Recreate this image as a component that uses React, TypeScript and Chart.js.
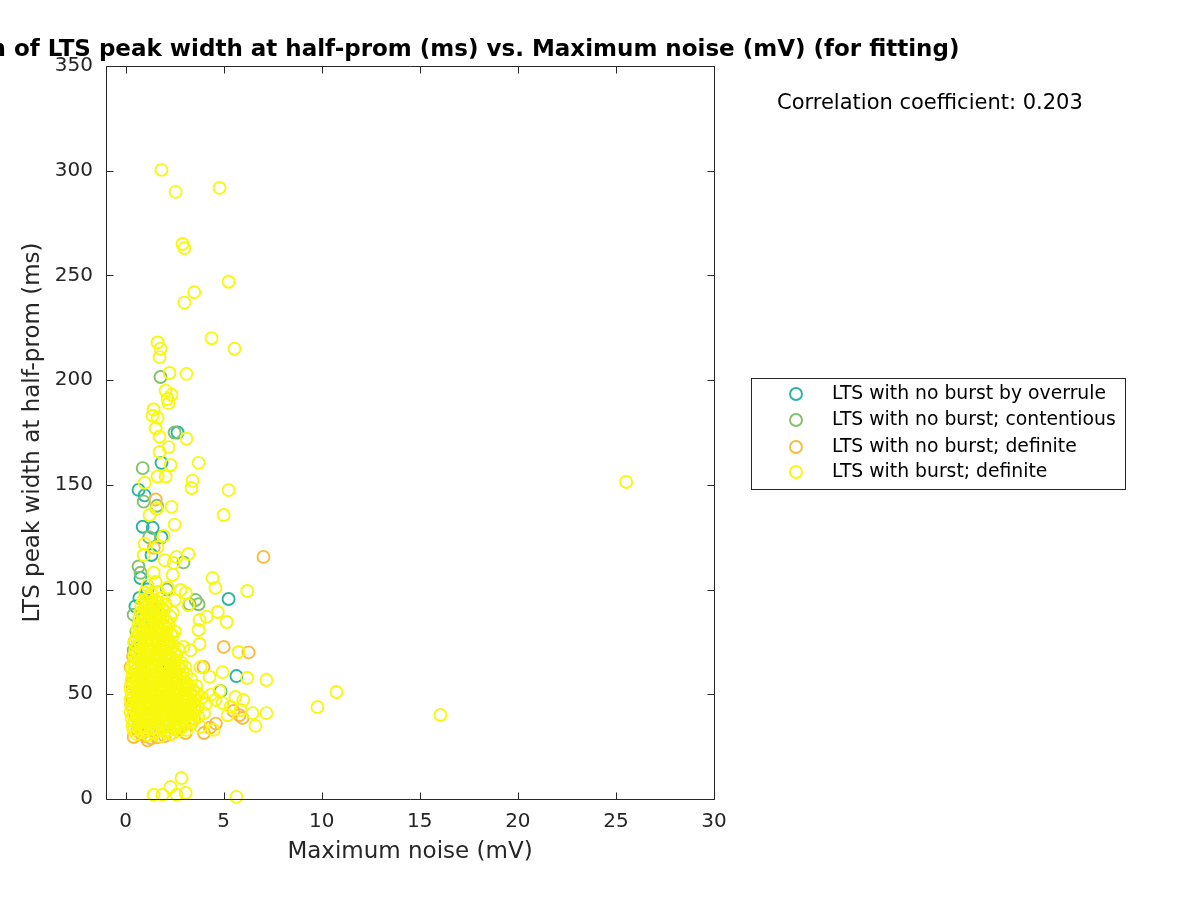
import React, { useEffect, useRef } from 'react';
import { Chart, registerables } from 'chart.js';

Chart.register(...registerables);

const FONT = '"DejaVu Sans", sans-serif';
const AXIS_COLOR = '#262626';

const TITLE = 'Correlation of LTS peak width at half-prom (ms) vs. Maximum noise (mV) (for fitting)';
const X_LABEL = 'Maximum noise (mV)';
const Y_LABEL = 'LTS peak width at half-prom (ms)';
const CORR_TEXT = 'Correlation coefficient: 0.203';

const X_TICKS = [0, 5, 10, 15, 20, 25, 30];
const Y_TICKS = [0, 50, 100, 150, 200, 250, 300, 350];

const SERIES_NAMES = [
  'LTS with no burst by overrule',
  'LTS with no burst; contentious',
  'LTS with no burst; definite',
  'LTS with burst; definite',
];
const SERIES_COLORS = ['#2ab5a0', '#82c26c', '#fbbb3d', '#f7f80f'];

// [Maximum noise (mV), LTS peak width at half-prom (ms)]
const overrulePts: [number, number][] = [
  [1.83, 160.5], [0.66, 147.6], [0.97, 145], [0.87, 130], [1.38, 129.5], [1.83, 125],
  [2.65, 175], [1.32, 116.5], [5.25, 95.5], [0.76, 105.5], [5.65, 58.7], [4.84, 51.5],
  [0.5, 92], [0.7, 96], [1.1, 100], [0.9, 88], [1.5, 90], [0.7, 72], [2.2, 64],
  [0.5, 70], [1.2, 80], [2.6, 55], [1.0, 60], [0.8, 85],
];

const contentiousPts: [number, number][] = [
  [0.87, 158], [0.92, 142], [2.5, 175], [1.78, 201.5], [0.66, 111], [0.76, 108],
  [2.95, 113], [3.57, 95], [3.26, 93], [3.72, 93], [0.41, 88], [0.41, 71],
  [1.6, 140], [1.2, 125], [0.55, 80], [2.1, 100], [1.0, 60], [0.7, 50],
];

const definitePts: [number, number][] = [
  [1.53, 143], [1.43, 120], [7.03, 115.6], [5.0, 72.6], [6.27, 70], [3.97, 63],
  [3.06, 31.5], [4.0, 31.5], [5.96, 38.7], [1.12, 28], [0.41, 29.6], [0.25, 63],
  [0.3, 55], [0.35, 48], [0.5, 40], [0.6, 33], [0.8, 31], [1.0, 30], [1.3, 29],
  [1.6, 29.5], [2.0, 30], [2.3, 31], [2.6, 33], [3.5, 38], [4.3, 34], [4.6, 36],
  [5.5, 42], [5.8, 40], [0.45, 75], [0.28, 45], [0.7, 35], [1.5, 36], [2.8, 34],
  [0.38, 68], [3.3, 45], [2.1, 60],
];

const burstOutlierPts: [number, number][] = [
  [1.83, 300.4], [2.55, 289.9], [4.79, 291.8], [2.9, 265], [3.0, 263], [3.0, 237],
  [3.5, 242], [5.25, 247], [4.38, 220], [5.55, 215], [1.63, 218], [1.78, 215],
  [1.73, 211], [2.24, 203.4], [3.1, 203], [2.04, 195], [2.34, 193], [2.14, 191],
  [2.19, 189], [1.43, 186], [1.38, 183], [1.63, 182], [1.53, 177], [1.73, 173],
  [3.1, 172], [2.19, 168], [1.73, 165.7], [2.29, 159.5], [3.72, 160.5], [0.97, 151],
  [1.63, 154], [2.04, 154], [3.41, 152], [3.36, 148.5], [5.25, 147.5], [1.58, 138.5],
  [2.34, 139.5], [1.22, 135.6], [2.5, 131], [5.0, 135.6], [0.97, 121.8], [1.94, 125.6],
  [1.63, 120.3], [0.92, 116.5], [2.6, 115.6], [3.2, 117], [1.99, 114], [2.45, 112.7],
  [4.43, 105.5], [1.43, 108], [2.4, 107], [6.2, 99.3], [4.58, 100.8], [1.53, 103.6],
  [2.8, 99.8], [3.06, 98.4], [2.14, 101], [1.12, 102],
  [3.2, 92.6], [4.7, 89.3], [5.15, 84.5], [3.77, 85.5], [4.13, 87], [3.72, 80.7],
  [3.77, 74], [2.95, 72.6], [3.31, 71], [5.76, 70.2], [3.82, 63], [4.94, 60.6],
  [4.28, 58.3], [6.2, 57.8], [7.18, 56.8], [4.33, 49.7], [4.58, 47.3], [5.6, 48.7],
  [6.0, 47.3], [4.94, 45.8], [5.35, 44], [6.47, 41], [7.18, 41], [6.62, 34.9],
  [4.48, 33], [3.82, 34.4], [5.86, 42.5], [5.2, 40], [4.79, 51.6],
  [9.78, 43.9], [10.75, 51.1], [16.05, 40.1], [25.52, 151.4],
  [1.43, 2], [1.88, 2], [2.29, 5.7], [2.85, 10], [3.06, 2.9], [2.6, 2], [5.65, 1],
];

const burstCorePts: [number, number][] = [
  [0.55, 31], [0.85, 32], [1.15, 30.5], [1.45, 31.5], [1.75, 30], [2.05, 32], [2.35, 31], [2.7, 32.5], [3.1, 33],
  [0.35, 35], [0.65, 36], [0.95, 34.5], [1.25, 35.5], [1.55, 34], [1.85, 36], [2.15, 35], [2.45, 34.5], [2.75, 36], [3.05, 35.5], [3.4, 36.5],
  [0.3, 38.5], [0.6, 38], [0.9, 39], [1.2, 38], [1.5, 39], [1.8, 38.5], [2.1, 38], [2.4, 39], [2.7, 38.5], [3.0, 39], [3.35, 38], [3.7, 39.5],
  [0.25, 41.5], [0.55, 41], [0.85, 42], [1.15, 41], [1.45, 41.5], [1.75, 42], [2.05, 41], [2.35, 42], [2.65, 41], [2.95, 42], [3.25, 41.5], [3.6, 42.5], [4.0, 41],
  [0.3, 44], [0.6, 45], [0.9, 44], [1.2, 45], [1.5, 44.5], [1.8, 44], [2.1, 45], [2.4, 44], [2.7, 45], [3.0, 44.5], [3.3, 45], [3.7, 44], [4.1, 45.5],
  [0.25, 47.5], [0.55, 47], [0.85, 48], [1.15, 47], [1.45, 48], [1.75, 47.5], [2.05, 47], [2.35, 48], [2.65, 47.5], [2.95, 47], [3.25, 48], [3.55, 47], [3.9, 48.5],
  [0.3, 50.5], [0.6, 50], [0.9, 51], [1.2, 50], [1.5, 50.5], [1.8, 51], [2.1, 50], [2.4, 50.5], [2.7, 51], [3.0, 50], [3.3, 51], [3.65, 50.5],
  [0.25, 53], [0.55, 54], [0.85, 53], [1.15, 53.5], [1.45, 54], [1.75, 53], [2.05, 53.5], [2.35, 54], [2.65, 53], [2.95, 54], [3.25, 53.5], [3.6, 54],
  [0.3, 56.5], [0.6, 56], [0.9, 57], [1.2, 56], [1.5, 57], [1.8, 56.5], [2.1, 56], [2.4, 57], [2.7, 56.5], [3.0, 56], [3.35, 57],
  [0.35, 59], [0.65, 60], [0.95, 59], [1.25, 59.5], [1.55, 60], [1.85, 59], [2.15, 60], [2.45, 59], [2.75, 60], [3.1, 59.5],
  [0.3, 62.5], [0.6, 62], [0.9, 63], [1.2, 62], [1.5, 63], [1.8, 62.5], [2.1, 62], [2.4, 63], [2.75, 62.5], [3.05, 63],
  [0.4, 65], [0.7, 66], [1.0, 65], [1.3, 65.5], [1.6, 66], [1.9, 65], [2.2, 66], [2.5, 65.5], [2.85, 65],
  [0.45, 68.5], [0.75, 68], [1.05, 69], [1.35, 68], [1.65, 69], [1.95, 68.5], [2.25, 68], [2.6, 69],
  [0.5, 71], [0.8, 72], [1.1, 71], [1.4, 71.5], [1.7, 72], [2.0, 71], [2.3, 72], [2.7, 71.5],
  [0.45, 74.5], [0.75, 74], [1.05, 75], [1.35, 74], [1.65, 75], [1.95, 74.5], [2.25, 74],
  [0.55, 77], [0.85, 78], [1.15, 77], [1.45, 77.5], [1.75, 78], [2.05, 77], [2.4, 78],
  [0.6, 80.5], [0.9, 80], [1.2, 81], [1.5, 80], [1.8, 80.5], [2.1, 81], [2.5, 80],
  [0.65, 83], [0.95, 84], [1.25, 83], [1.55, 83.5], [1.85, 84], [2.2, 83],
  [0.7, 86.5], [1.0, 86], [1.3, 87], [1.6, 86], [1.9, 86.5], [2.3, 87],
  [0.75, 89], [1.05, 90], [1.35, 89], [1.65, 89.5], [1.95, 90], [2.4, 89],
  [0.8, 92.5], [1.1, 92], [1.4, 93], [1.7, 92], [2.05, 93],
  [0.9, 95], [1.2, 96], [1.5, 95], [1.85, 96], [2.5, 95],
  [1.0, 98.5], [1.3, 98], [1.65, 99],
];

const burstFillPts: [number, number][] = [
  [0.4, 33], [0.7, 33.5], [1.0, 33], [1.3, 33.5], [1.6, 32.5], [1.9, 33.5], [2.2, 33], [2.5, 33.5], [2.85, 34],
  [0.45, 37], [0.75, 36.5], [1.05, 37], [1.35, 37], [1.65, 36.5], [1.95, 37], [2.25, 37], [2.55, 36.5], [2.9, 37], [3.2, 37.5],
  [0.4, 40], [0.7, 40], [1.0, 40.5], [1.3, 40], [1.6, 40], [1.9, 40.5], [2.2, 40], [2.5, 40], [2.8, 40.5], [3.1, 40], [3.45, 40.5],
  [0.4, 43], [0.7, 43], [1.0, 43], [1.3, 43.5], [1.6, 43], [1.9, 43], [2.2, 43.5], [2.5, 43], [2.85, 43], [3.15, 43.5], [3.5, 43],
  [0.4, 46], [0.7, 46], [1.0, 46.5], [1.3, 46], [1.6, 46], [1.9, 46], [2.2, 46.5], [2.5, 46], [2.8, 46], [3.1, 46.5], [3.45, 46],
  [0.4, 49], [0.7, 49], [1.0, 49], [1.3, 49.5], [1.6, 49], [1.9, 49], [2.2, 49], [2.55, 49.5], [2.85, 49], [3.15, 49], [3.5, 49],
  [0.4, 52], [0.7, 52], [1.0, 52.5], [1.3, 52], [1.6, 52], [1.9, 52], [2.2, 52], [2.5, 52.5], [2.8, 52], [3.1, 52], [3.45, 52],
  [0.4, 55], [0.7, 55], [1.0, 55], [1.3, 55], [1.6, 55.5], [1.9, 55], [2.2, 55], [2.55, 55], [2.85, 55], [3.15, 55],
  [0.45, 58], [0.75, 58], [1.05, 58], [1.35, 58], [1.65, 58], [1.95, 58], [2.3, 58], [2.6, 58], [2.9, 58],
  [0.45, 61], [0.75, 61], [1.05, 61], [1.35, 61], [1.65, 61], [1.95, 61], [2.25, 61], [2.6, 61], [2.9, 61],
  [0.5, 64], [0.85, 64], [1.15, 64], [1.45, 64], [1.75, 64], [2.05, 64], [2.35, 64], [2.7, 64],
  [0.55, 67], [0.9, 67], [1.2, 67], [1.5, 67], [1.8, 67], [2.1, 67], [2.4, 67],
  [0.6, 70], [0.95, 70], [1.25, 70], [1.55, 70], [1.85, 70], [2.15, 70], [2.5, 70],
  [0.6, 73], [0.9, 73], [1.2, 73], [1.5, 73], [1.8, 73], [2.1, 73], [2.45, 73],
  [0.7, 76], [1.0, 76], [1.3, 76], [1.6, 76], [1.9, 76], [2.2, 76],
  [0.7, 79], [1.05, 79], [1.35, 79], [1.65, 79], [1.95, 79], [2.3, 79],
  [0.8, 82], [1.1, 82], [1.4, 82], [1.7, 82], [2.0, 82],
  [0.85, 85], [1.15, 85], [1.45, 85], [1.75, 85], [2.1, 85],
  [0.9, 88], [1.2, 88], [1.5, 88], [1.8, 88],
  [0.95, 91], [1.25, 91], [1.55, 91], [1.85, 91],
  [1.05, 94], [1.35, 94], [1.65, 94],
];

const SERIES_POINTS = [
  overrulePts,
  contentiousPts,
  definitePts,
  burstOutlierPts.concat(burstCorePts, burstFillPts),
];

const MARKER_RADIUS = 6;
const MARKER_WIDTH = 1.9;

const decorPlugin = {
  id: 'decor',
  afterDraw(chart: any) {
    const { ctx, chartArea: a, scales } = chart;
    ctx.save();
    ctx.strokeStyle = AXIS_COLOR;
    ctx.lineWidth = 1;
    const L = Math.round(a.left) + 0.5;
    const R = Math.round(a.right) + 0.5;
    const T = Math.round(a.top) + 0.5;
    const B = Math.round(a.bottom) + 0.5;
    ctx.beginPath();
    ctx.rect(L, T, R - L, B - T);
    const tl = 7;
    for (const v of X_TICKS) {
      const px = Math.round(scales.x.getPixelForValue(v)) + 0.5;
      ctx.moveTo(px, B); ctx.lineTo(px, B - tl);
      ctx.moveTo(px, T); ctx.lineTo(px, T + tl);
    }
    for (const v of Y_TICKS) {
      const py = Math.round(scales.y.getPixelForValue(v)) + 0.5;
      ctx.moveTo(L, py); ctx.lineTo(L + tl, py);
      ctx.moveTo(R, py); ctx.lineTo(R - tl, py);
    }
    ctx.stroke();

    // title
    ctx.fillStyle = '#000';
    ctx.font = `bold 23px ${FONT}`;
    ctx.textAlign = 'center';
    ctx.textBaseline = 'alphabetic';
    ctx.fillText(TITLE, (a.left + a.right) / 2, 56);

    // correlation text
    ctx.font = `21px ${FONT}`;
    ctx.textAlign = 'left';
    ctx.textBaseline = 'middle';
    ctx.fillText(CORR_TEXT, 777, 104);

    // legend
    ctx.strokeStyle = AXIS_COLOR;
    ctx.lineWidth = 1;
    ctx.strokeRect(751.5, 378.5, 374, 111);
    const rows = [394, 420, 447, 472];
    ctx.font = `18.8px ${FONT}`;
    SERIES_NAMES.forEach((name, i) => {
      ctx.beginPath();
      ctx.strokeStyle = SERIES_COLORS[i];
      ctx.lineWidth = MARKER_WIDTH;
      ctx.arc(796, rows[i], MARKER_RADIUS, 0, Math.PI * 2);
      ctx.stroke();
      ctx.fillStyle = '#000';
      ctx.fillText(name, 832, rows[i]);
    });
    ctx.restore();
  },
};

export default function App() {
  const ref = useRef<HTMLCanvasElement | null>(null);

  useEffect(() => {
    if (!ref.current) return;
    const datasets = SERIES_NAMES.map((name, i) => ({
      label: name,
      data: SERIES_POINTS[i].map(([x, y]) => ({ x, y })),
      borderColor: SERIES_COLORS[i],
      backgroundColor: 'rgba(0,0,0,0)',
      pointRadius: MARKER_RADIUS,
      pointBorderWidth: MARKER_WIDTH,
      pointStyle: 'circle',
      showLine: false,
      clip: false as any,
      order: SERIES_NAMES.length - 1 - i,
    }));
    const chart = new Chart(ref.current, {
      type: 'scatter',
      data: { datasets },
      options: {
        animation: false,
        responsive: false,
        devicePixelRatio: 1,
        layout: { padding: { left: 0, top: 66, right: 486, bottom: 0 } },
        plugins: {
          legend: { display: false },
          title: { display: false },
          tooltip: { enabled: false },
        },
        events: [],
        scales: {
          x: {
            type: 'linear',
            min: -1,
            max: 30,
            afterBuildTicks: (s: any) => { s.ticks = X_TICKS.map((v) => ({ value: v })); },
            afterFit: (s: any) => { s.height = 101; },
            grid: { display: false, drawTicks: false },
            border: { display: false },
            ticks: { font: { family: FONT, size: 20 }, color: AXIS_COLOR, padding: 11, maxRotation: 0 },
            title: {
              display: true,
              text: X_LABEL,
              font: { family: FONT, size: 23 },
              color: AXIS_COLOR,
              padding: { top: 0, bottom: 34 },
            },
          },
          y: {
            type: 'linear',
            min: 0,
            max: 350,
            afterBuildTicks: (s: any) => { s.ticks = Y_TICKS.map((v) => ({ value: v })); },
            afterFit: (s: any) => { s.width = 106; },
            grid: { display: false, drawTicks: false },
            border: { display: false },
            ticks: { font: { family: FONT, size: 20 }, color: AXIS_COLOR, padding: 13 },
            title: {
              display: true,
              text: Y_LABEL,
              font: { family: FONT, size: 23 },
              color: AXIS_COLOR,
              padding: { top: 19, bottom: 0 },
            },
          },
        },
      },
      plugins: [decorPlugin],
    });
    return () => chart.destroy();
  }, []);

  return (
    <div style={{ position: 'fixed', left: 0, top: 0, width: 1200, height: 900, background: '#fff' }}>
      <canvas ref={ref} width={1200} height={900} style={{ display: 'block', width: 1200, height: 900 }} />
    </div>
  );
}
